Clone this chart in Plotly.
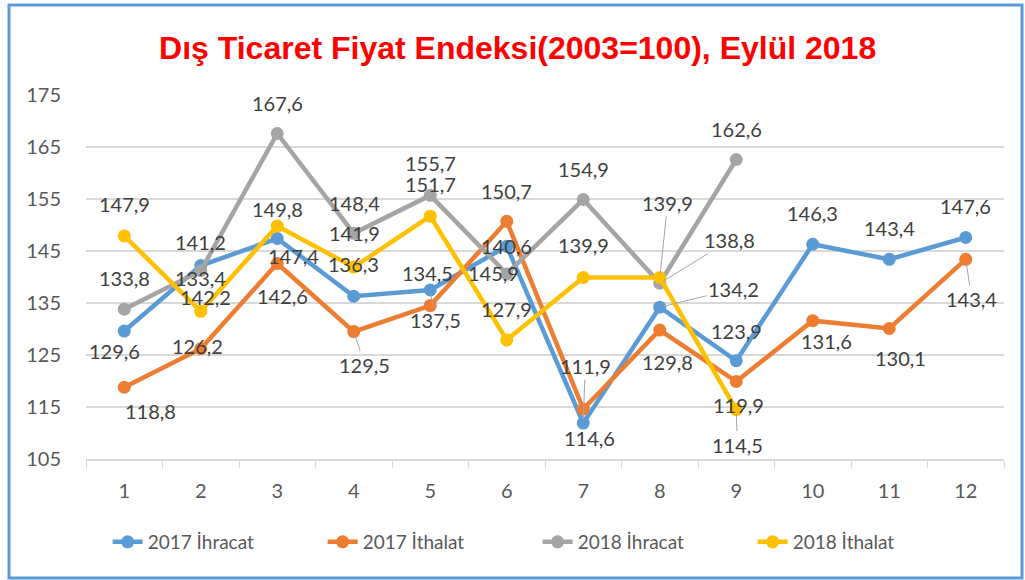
import plotly.graph_objects as go

months = ["1", "2", "3", "4", "5", "6", "7", "8", "9", "10", "11", "12"]
ihracat_2017 = [129.6, 142.2, 147.4, 136.3, 137.5, 145.9, 111.9, 134.2, 123.9, 146.3, 143.4, 147.6]
ithalat_2017 = [118.8, 126.2, 142.6, 129.5, 134.5, 150.7, 114.6, 129.8, 119.9, 131.6, 130.1, 143.4]
ihracat_2018 = [133.8, 141.2, 167.6, 148.4, 155.7, 140.6, 154.9, 138.8, 162.6]
ithalat_2018 = [147.9, 133.4, 149.8, 141.9, 151.7, 127.9, 139.9, 139.9, 114.5]

series_names = ["2017 İhracat", "2017 İthalat", "2018 İhracat", "2018 İthalat"]
series_values = [ihracat_2017, ithalat_2017, ihracat_2018, ithalat_2018]
colors = ["#5B9BD5", "#ED7D31", "#A5A5A5", "#FFC000"]

# label offsets in pixels (dx, dy; dy positive = down) and leader-line flags (style only)
label_offsets = [
    [(-10, 20), (5, 31), (16, 17), (0, -32), (5, 30), (-13, 27), (2, -57), (74, -18), (0, -30), (0, -31), (0, -31), (0, -31)],
    [(26, 24), (-3, -3), (5, 33), (11, 33), (-3, -33), (0, -30), (6, 29), (8, 32), (2, 23), (14, 20), (11, 30), (6, 40)],
    [(0, -31), (0, -29), (0, -30), (1, -30), (0, -32), (0, -28), (0, -31), (70, -43), (0, -30)],
    [(0, -32), (0, -33), (0, -17), (1, -34), (0, -32), (0, -31), (0, -33), (8, -75), (1, 35)],
]
leaders = [
    [False, False, False, False, True, False, True, True, False, False, False, False],
    [False, False, False, True, False, False, False, False, False, False, False, True],
    [False, False, False, False, False, False, False, True, False],
    [False, False, False, False, False, False, False, True, True],
]

LABEL_FONT = dict(family="Lato, Carlito, sans-serif", size=20, color="#404040")
TICK_FONT = dict(family="Lato, Carlito, sans-serif", size=20, color="#595959")
LEGEND_FONT = dict(family="Lato, Carlito, sans-serif", size=19, color="#595959")

fig = go.Figure()
for name, vals, col in zip(series_names, series_values, colors):
    fig.add_trace(go.Scatter(
        x=months[:len(vals)], y=vals, name=name, mode="lines+markers",
        line=dict(color=col, width=4.5), marker=dict(color=col, size=13),
        hoverinfo="skip",
    ))

annotations = []
for vals, offs, lead in zip(series_values, label_offsets, leaders):
    for i, v in enumerate(vals):
        txt = f"{v:.1f}".replace(".", ",")
        dx, dy = offs[i]
        if lead[i]:
            annotations.append(dict(
                x=i, y=v, xref="x", yref="y", text=txt, showarrow=True,
                ax=dx, ay=dy, arrowhead=0, arrowwidth=1, arrowcolor="#A5A5A5",
                standoff=4, font=LABEL_FONT,
            ))
        else:
            annotations.append(dict(
                x=i, y=v, xref="x", yref="y", text=txt, showarrow=False,
                xshift=dx, yshift=-dy, font=LABEL_FONT,
            ))

fig.update_layout(
    width=1025, height=580,
    margin=dict(l=86, r=21, t=95, b=121, autoexpand=False),
    paper_bgcolor="white", plot_bgcolor="white",
    title=dict(
        text="<b>Dış Ticaret Fiyat Endeksi(2003=100), Eylül 2018</b>",
        font=dict(family="Liberation Sans, Arial, sans-serif", size=32, color="#FF0000"),
        x=0.505, xanchor="center", y=0.918, yanchor="middle",
    ),
    xaxis=dict(
        type="category", categoryorder="array", categoryarray=months,
        range=[-0.5, 11.5], tickson="boundaries", ticks="outside", ticklen=7,
        tickcolor="#D9D9D9", showline=True, linecolor="#D9D9D9", linewidth=1.5,
        showgrid=False, tickfont=TICK_FONT, fixedrange=True, ticklabelstandoff=13,
    ),
    yaxis=dict(
        range=[105, 175], dtick=10, tick0=105, showgrid=True, gridcolor="#D9D9D9",
        gridwidth=1.5, zeroline=False, showline=False, tickfont=TICK_FONT,
        ticks="", ticklabelstandoff=24,
    ),
    legend=dict(
        orientation="h", x=0.492, xanchor="center", y=-0.228, yanchor="middle",
        font=LEGEND_FONT, entrywidth=170, bgcolor="rgba(0,0,0,0)",
    ),
    annotations=annotations,
    showlegend=True,
)

# outer blue frame
fig.add_shape(
    type="rect", xref="paper", yref="paper",
    x0=(9 - 86) / 918, x1=(1022 - 86) / 918,
    y0=(459 - 578) / 364, y1=(459 - 5) / 364,
    line=dict(color="#5B9BD5", width=3), fillcolor="rgba(0,0,0,0)", layer="above",
)

fig.write_html(
    "out.html",
    config={"displayModeBar": False},
    post_script="document.body.style.margin='0';",
)
